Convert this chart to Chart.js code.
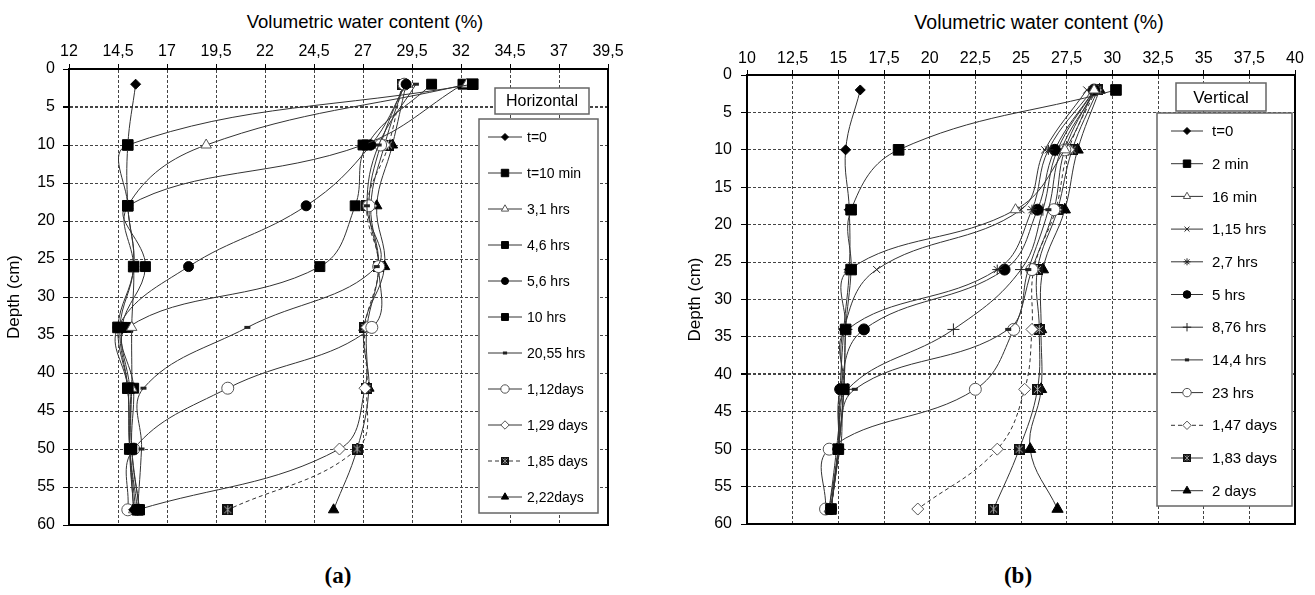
<!DOCTYPE html>
<html>
<head>
<meta charset="utf-8">
<script src="https://cdn.jsdelivr.net/npm/chart.js@4.4.1/dist/chart.umd.min.js"></script>
<style>
body { margin: 0; background: #fff; width: 1315px; height: 595px; position: relative; overflow: hidden; font-family: "Liberation Sans", Arial, sans-serif; }
canvas { position: absolute; top: 0; }
#chartH { left: 0; }
#chartV { left: 660px; }
.ttl { position: absolute; white-space: nowrap; transform: translateX(-50%); color: #000; }
.lbl { position: absolute; font: bold 23px "Liberation Serif", "Times New Roman", serif; transform: translateX(-50%); }
</style>
</head>
<body>
<div class="ttl" style="left:365px;top:11px;font-size:18.5px">Volumetric water content (%)</div>
<div class="ttl" style="left:1039px;top:11px;font-size:19.5px">Volumetric water content (%)</div>
<canvas id="chartH" width="640" height="545"></canvas>
<canvas id="chartV" width="655" height="545"></canvas>
<div class="lbl" style="left:338px;top:563px">(a)</div>
<div class="lbl" style="left:1018px;top:563px">(b)</div>
<script>
// depth of each probe (cm)
var depths = [2, 10, 18, 26, 34, 42, 50, 58]

// (a) horizontal
var hLabels = ['t=0', 't=10 min', '3,1 hrs', '4,6 hrs', '5,6 hrs', '10 hrs', '20,55 hrs', '1,12days', '1,29 days', '1,85 days', '2,22days']
var hT0    = [15.4, 15.0, 15.0, 15.3, 14.6, 15.0, 15.1, 15.3]
var h10min = [32.6, 15.0, 15.0, 15.3, 14.5, 15.0, 15.1, 15.5]
var h3_1   = [32.3, 19.0, 15.0, 15.3, 15.2, 15.2, 15.1, 15.3]
var h4_6   = [32.1, 27.0, 15.0, 15.9, 14.7, 15.1, 15.2, 15.6]
var h5_6   = [29.2, 27.4, 24.1, 18.1, 14.5, 15.0, 15.1, 15.4]
var h10    = [30.5, 27.2, 26.6, 24.8, 15.0, 15.3, 15.2, 15.6]
var h20_55 = [29.7, 27.8, 27.2, 27.7, 21.1, 15.8, 15.7, 15.5]
var h1_12d = [29.1, 27.9, 27.3, 27.8, 27.45, 20.1, 15.3, 15.0]
var h1_29d = [29.1, 28.1, 27.4, 27.8, 27.2, 27.1, 25.8, 15.5]
var h1_85d = [29.0, 28.3, 27.2, 27.8, 27.1, 27.2, 26.7, 20.1]
var h2_22d = [29.2, 28.5, 27.7, 28.1, 27.05, 27.3, 26.7, 25.5]

// (b) vertical
var vLabels = ['t=0', '2 min', '16 min', '1,15 hrs', '2,7 hrs', '5 hrs', '8,76 hrs', '14,4 hrs', '23 hrs', '1,47 days', '1,83 days', '2 days']
var vT0   = [16.2, 15.4, 15.6, 15.6, 15.3, 15.1, 15.0, 14.6]
var v2m   = [30.2, 18.3, 15.7, 15.7, 15.4, 15.3, 15.0, 14.6]
var v16m  = [29.0, 27.4, 24.7, 15.6, 15.4, 15.3, 15.0, 14.5]
var v1_15 = [28.6, 26.3, 25.0, 17.1, 15.3, 15.2, 14.9, 14.5]
var v2_7  = [28.9, 26.5, 25.6, 23.7, 15.5, 15.3, 15.0, 14.6]
var v5    = [29.0, 26.85, 25.9, 24.1, 16.4, 15.1, 15.0, 14.6]
var v8_76 = [29.0, 27.0, 26.2, 25.0, 21.3, 15.5, 15.0, 14.6]
var v14_4 = [29.1, 27.2, 26.5, 25.4, 24.3, 15.9, 15.1, 14.6]
var v23h  = [29.0, 27.4, 26.8, 25.6, 24.6, 22.5, 14.5, 14.3]
var v1_47 = [29.1, 27.6, 26.9, 25.7, 25.6, 25.2, 23.7, 19.35]
var v1_83 = [29.2, 27.8, 27.0, 25.9, 26.0, 25.9, 24.9, 23.5]
var v2d   = [29.3, 28.1, 27.4, 26.2, 26.1, 26.1, 25.5, 27.0]

Chart.defaults.font.family = '"Liberation Sans", Arial, sans-serif'
Chart.defaults.color = '#000'

// black square with a light cross, like the excel marker
function boxX(size) {
    var c = document.createElement('canvas')
    c.width = size; c.height = size
    var g = c.getContext('2d')
    g.fillStyle = '#111'
    g.fillRect(0, 0, size, size)
    g.strokeStyle = '#aaa'
    g.lineWidth = 1
    g.beginPath()
    g.moveTo(2, 2); g.lineTo(size - 2, size - 2)
    g.moveTo(size - 2, 2); g.lineTo(2, size - 2)
    g.moveTo(size / 2, 1); g.lineTo(size / 2, size - 1)
    g.stroke()
    return c
}

function filled(style, r) {
    return { pointStyle: style, pointRadius: r, pointBackgroundColor: '#000', pointBorderColor: '#000', pointBorderWidth: 1 }
}
function open(style, r) {
    return { pointStyle: style, pointRadius: r, pointBackgroundColor: '#fff', pointBorderColor: '#555', pointBorderWidth: 1 }
}
function stroke(style, r, w) {
    return { pointStyle: style, pointRadius: r, pointBackgroundColor: '#000', pointBorderColor: '#222', pointBorderWidth: w }
}

var hStyles = [
    filled('rectRot', 5), filled('rect', 7.5), open('triangle', 6), filled('rect', 7),
    filled('circle', 5), filled('rect', 7), stroke('line', 3, 3), open('circle', 6),
    open('rectRot', 6), { pointStyle: boxX(11), pointRadius: 6, borderDash: [4, 3] }, filled('triangle', 6)
]
var vStyles = [
    filled('rectRot', 5), filled('rect', 7.5), open('triangle', 6), stroke('crossRot', 5, 1),
    stroke('star', 5, 1), filled('circle', 5.5), stroke('cross', 6, 1), stroke('line', 3, 3),
    open('circle', 6), Object.assign(open('rectRot', 6), { borderDash: [4, 3] }), { pointStyle: boxX(11), pointRadius: 6 }, filled('triangle', 6.5)
]

function makeSets(labels, series, styles) {
    return series.map(function (vals, i) {
        return Object.assign({
            label: labels[i],
            data: vals.map(function (v, k) { return { x: v, y: depths[k] } }),
            borderColor: '#333',
            borderWidth: 1,
            showLine: true,
            tension: 0.4,
            fill: false
        }, styles[i])
    })
}

function fmt(v) { return String(v).replace('.', ',') }

function makeScales(xmin, xmax, topH, leftW, yPad, xPad, thickY) {
    return {
        x: {
            type: 'linear', position: 'top', min: xmin, max: xmax,
            ticks: { stepSize: 2.5, autoSkip: false, maxRotation: 0, padding: xPad, font: { size: 16 }, callback: fmt },
            grid: { color: '#444', lineWidth: 1, tickColor: '#000', tickLength: 5 },
            border: { color: '#000', width: 2, dash: [3, 2] },
            afterFit: function (s) { s.height = topH }
        },
        y: {
            type: 'linear', reverse: true, min: 0, max: 60,
            ticks: { stepSize: 5, padding: yPad, font: { size: 16 } },
            grid: {
                color: '#444', tickColor: '#000', tickLength: 6,
                lineWidth: function (c) { return c.tick && c.tick.value === thickY ? 2 : 1 }
            },
            border: { color: '#000', width: 2, dash: [3, 2] },
            title: { display: true, text: 'Depth (cm)', font: { size: 17 }, color: '#000' },
            afterFit: function (s) { s.width = leftW }
        }
    }
}

var frame = {
    id: 'frame',
    beforeDatasetsDraw: function (chart) {
        var a = chart.chartArea, ctx = chart.ctx
        ctx.save()
        ctx.strokeStyle = '#000'
        ctx.lineWidth = 2
        ctx.strokeRect(a.left, a.top, a.right - a.left, a.bottom - a.top)
        ctx.restore()
    }
}

// legend box drawn inside the plot like the excel one
var boxLegend = {
    id: 'boxLegend',
    afterDraw: function (chart, args, o) {
        var ctx = chart.ctx
        ctx.save()
        ctx.fillStyle = '#fff'
        ctx.strokeStyle = '#666'
        ctx.lineWidth = 1.5
        ctx.fillRect(o.box[0], o.box[1], o.box[2], o.box[3])
        ctx.strokeRect(o.box[0], o.box[1], o.box[2], o.box[3])
        var tb = o.titleBox
        ctx.fillRect(tb[0], tb[1], tb[2], tb[3])
        ctx.strokeRect(tb[0], tb[1], tb[2], tb[3])
        ctx.fillStyle = '#000'
        ctx.font = o.titleFont
        ctx.textAlign = 'center'
        ctx.textBaseline = 'middle'
        ctx.fillText(o.title, tb[0] + tb[2] / 2, tb[1] + tb[3] / 2 + 1)

        var cx = (o.lineX[0] + o.lineX[1]) / 2
        chart.data.datasets.forEach(function (ds, i) {
            var y = o.top + i * o.step
            ctx.strokeStyle = ds.borderColor
            ctx.lineWidth = 1
            ctx.setLineDash(ds.borderDash || [])
            ctx.beginPath()
            ctx.moveTo(o.lineX[0], y)
            ctx.lineTo(o.lineX[1], y)
            ctx.stroke()
            ctx.setLineDash([])
            if (ds.pointStyle instanceof HTMLCanvasElement) {
                ctx.drawImage(ds.pointStyle, cx - 4, y - 4, 8, 8)
            } else {
                ctx.fillStyle = ds.pointBackgroundColor
                ctx.strokeStyle = ds.pointBorderColor
                ctx.lineWidth = ds.pointBorderWidth
                Chart.helpers.drawPoint(ctx, { pointStyle: ds.pointStyle, radius: ds.pointRadius * 0.7, borderWidth: ds.pointBorderWidth, rotation: 0 }, cx, y)
            }
            ctx.fillStyle = '#000'
            ctx.font = o.font
            ctx.textAlign = 'left'
            ctx.fillText(ds.label, o.textX, y + 1)
        })
        ctx.restore()
    }
}

document.addEventListener('DOMContentLoaded', function () {
    new Chart(document.getElementById('chartH'), {
        type: 'scatter',
        data: { datasets: makeSets(hLabels, [hT0, h10min, h3_1, h4_6, h5_6, h10, h20_55, h1_12d, h1_29d, h1_85d, h2_22d], hStyles) },
        options: {
            responsive: false, animation: false, events: [],
            layout: { padding: { left: 0, top: 0, right: 32, bottom: 20 } },
            scales: makeScales(12, 39.5, 69, 69, 8, 3, 5),
            plugins: {
                legend: { display: false }, tooltip: { enabled: false },
                boxLegend: {
                    box: [479, 119, 119, 394], titleBox: [495, 88, 94, 26], title: 'Horizontal',
                    titleFont: '16px "Liberation Sans", Arial', font: '14px "Liberation Sans", Arial',
                    top: 137, step: 36, lineX: [488, 522], textX: 527
                }
            }
        },
        plugins: [frame, boxLegend]
    })

    new Chart(document.getElementById('chartV'), {
        type: 'scatter',
        data: { datasets: makeSets(vLabels, [vT0, v2m, v16m, v1_15, v2_7, v5, v8_76, v14_4, v23h, v1_47, v1_83, v2d], vStyles) },
        options: {
            responsive: false, animation: false, events: [],
            layout: { padding: { left: 21, top: 0, right: 20, bottom: 21 } },
            scales: makeScales(10, 40, 75, 66, 9, 2, 40),
            plugins: {
                legend: { display: false }, tooltip: { enabled: false },
                boxLegend: {
                    box: [497, 113, 135, 393], titleBox: [516, 83, 90, 28], title: 'Vertical',
                    titleFont: '17px "Liberation Sans", Arial', font: '15px "Liberation Sans", Arial',
                    top: 131, step: 32.7, lineX: [511, 543], textX: 552
                }
            }
        },
        plugins: [frame, boxLegend]
    })
})
</script>
</body>
</html>
